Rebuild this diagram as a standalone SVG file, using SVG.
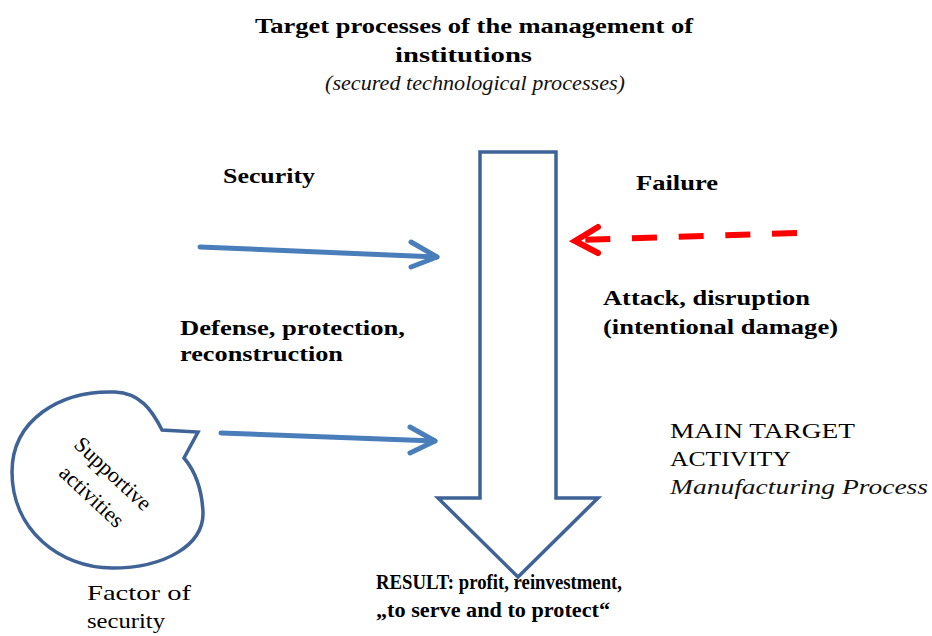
<svg xmlns="http://www.w3.org/2000/svg" width="932" height="636" viewBox="0 0 932 636">
<style>
.b{font-family:"Liberation Serif","Times New Roman",serif;font-weight:bold;font-size:22px;fill:#000}
.r{font-family:"Liberation Serif","Times New Roman",serif;font-size:22px;fill:#000}
.i{font-family:"Liberation Serif","Times New Roman",serif;font-style:italic;font-size:22px;fill:#111}
.blue{fill:none;stroke:#4A7EBB;stroke-width:5;stroke-linecap:round;stroke-linejoin:round}
.red{fill:none;stroke:#FF0000;stroke-width:6;stroke-linejoin:miter}
.shape{fill:#fff;stroke:#3F6396;stroke-width:3.5}
</style>
<rect width="932" height="636" fill="#fff"/>
<g id="title">
<text class="b" x="255" y="33" font-size="23" textLength="438" lengthAdjust="spacingAndGlyphs">Target processes  of the management of</text>
<text class="b" x="395" y="62" font-size="23" textLength="137" lengthAdjust="spacingAndGlyphs">institutions</text>
<text class="i" x="325" y="90" font-size="21" fill="#444" textLength="300" lengthAdjust="spacingAndGlyphs">(secured technological processes)</text>
</g>
<g id="main-arrow">
<path class="shape" d="M480,152 L556,152 L556,498 L598,498 L518,577 L438,498 L480,498 Z"/>
</g>
<g id="connectors">
<polyline class="blue" points="200,247 437,257"/>
<polyline class="blue" points="411,242 437,257 411,267"/>
<polyline class="blue" points="221,433 435,441"/>
<polyline class="blue" points="410,427 435,441 410,453"/>
<line class="red" x1="797" y1="233" x2="580" y2="240" stroke-dasharray="25 21.7"/>
<polyline class="red" points="598,227 575,241 598,253" stroke-linecap="round"/>
</g>
<g id="security">
<text class="b" x="223" y="183" textLength="92" lengthAdjust="spacingAndGlyphs">Security</text>
</g>
<g id="failure">
<text class="b" x="636" y="190" textLength="82" lengthAdjust="spacingAndGlyphs">Failure</text>
</g>
<g id="defense">
<text class="b" x="180" y="335" textLength="225" lengthAdjust="spacingAndGlyphs">Defense, protection,</text>
<text class="b" x="180" y="361" textLength="163" lengthAdjust="spacingAndGlyphs">reconstruction</text>
</g>
<g id="attack">
<text class="b" x="603" y="305" textLength="207" lengthAdjust="spacingAndGlyphs">Attack, disruption</text>
<text class="b" x="603" y="334" textLength="235" lengthAdjust="spacingAndGlyphs">(intentional damage)</text>
</g>
<g id="main-target">
<text class="r" x="670" y="438" font-size="24" textLength="185" lengthAdjust="spacingAndGlyphs">MAIN TARGET</text>
<text class="r" x="670" y="466" font-size="24" textLength="121" lengthAdjust="spacingAndGlyphs">ACTIVITY</text>
<text class="i" x="670" y="494" font-size="24" fill="#000" textLength="258" lengthAdjust="spacingAndGlyphs">Manufacturing Process</text>
</g>
<g id="result">
<text class="b" x="376" y="589" font-size="19" textLength="246" lengthAdjust="spacingAndGlyphs">RESULT: profit, reinvestment,</text>
<text class="b" x="376" y="617" font-size="19" textLength="234" lengthAdjust="spacingAndGlyphs">„to serve and to protect“</text>
</g>
<g id="supportive">
<path class="shape" d="M162,430 C152,410 140,393 115,392 C60,390 12,420 12,472 C12,530 60,568 112,568 C165,568 204,545 203,512 C202,492 196,472 184,458 L198,432 Z"/>
<g transform="translate(108,479) rotate(43)">
<text class="r" x="0" y="0" font-size="24" text-anchor="middle">Supportive</text>
<text class="r" x="0" y="31" font-size="24" text-anchor="middle">activities</text>
</g>
</g>
<g id="factor">
<text class="r" x="87" y="600" font-size="23" textLength="104" lengthAdjust="spacingAndGlyphs">Factor  of</text>
<text class="r" x="87" y="628" font-size="23" textLength="78" lengthAdjust="spacingAndGlyphs">security</text>
</g>
</svg>
